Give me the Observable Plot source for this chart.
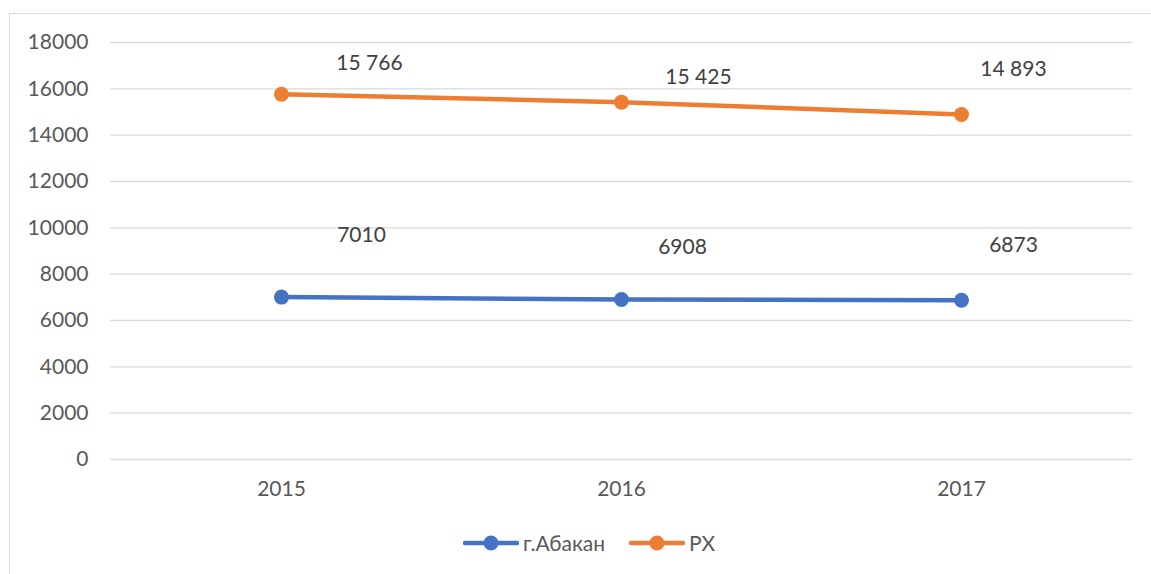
<!DOCTYPE html>
<html>
<head>
<meta charset="utf-8">
<script src="https://cdn.jsdelivr.net/npm/d3@7"></script>
<script src="https://cdn.jsdelivr.net/npm/@observablehq/plot@0.6"></script>
<style>
  html, body { margin: 0; padding: 0; background: #fff; width: 1151px; height: 574px; overflow: hidden; }
  #frame { position: absolute; left: 9px; top: 13px; width: 1200px; height: 600px; border: 1px solid #d9d9d9; box-sizing: border-box; }
  #chart { position: absolute; left: 0; top: 0; }
  #legend { position: absolute; left: 463px; top: 530px; display: flex; align-items: center; font-family: Lato, "Noto Sans", sans-serif; font-size: 21px; color: #595959; }
  .item { display: flex; align-items: center; margin-right: 24px; }
  .item svg { margin-right: 4px; }
</style>
</head>
<body>
<div id="frame"></div>
<div id="chart"></div>
<div id="legend"></div>
<script>
// ---- data ----
const years = ["2015", "2016", "2017"];
const seriesNames = ["г.Абакан", "РХ"];
const abakan = [7010, 6908, 6873];
const rx = [15766, 15425, 14893];
const abakanLabels = ["7010", "6908", "6873"];
const rxLabels = ["15 766", "15 425", "14 893"];
const yTicks = [0, 2000, 4000, 6000, 8000, 10000, 12000, 14000, 16000, 18000];

// ---- layout (label offsets in px, manually placed as in the source) ----
const colors = ["#4472C4", "#ED7D31"];
const abakanOff = [[80, -62], [61, -52], [52, -55]];
const rxOff = [[88, -31], [77, -25], [52, -45]];

const rows = years.flatMap((y, i) => [
  {year: y, series: seriesNames[0], value: abakan[i], label: abakanLabels[i], off: abakanOff[i]},
  {year: y, series: seriesNames[1], value: rx[i], label: rxLabels[i], off: rxOff[i]}
]);

const labelMarks = rows.map(r => Plot.text([r], {
  x: "year", y: "value", text: "label",
  dx: r.off[0], dy: r.off[1],
  fill: "#404040", fontSize: 21, textAnchor: "middle"
}));

const chart = Plot.plot({
  width: 1151,
  height: 509,
  marginLeft: 110,
  marginRight: 19,
  marginTop: 42,
  marginBottom: 50,
  style: { fontFamily: 'Lato, "Noto Sans", sans-serif', fontSize: "21px", color: "#595959", background: "transparent" },
  x: { type: "point", domain: years, padding: 0.5, label: null },
  y: { domain: [0, 18000], label: null },
  color: { domain: seriesNames, range: colors },
  marks: [
    Plot.gridY(yTicks, { stroke: "#d9d9d9", strokeOpacity: 1, strokeWidth: 1.3 }),
    Plot.axisY(yTicks, { tickSize: 0, tickPadding: 22, fontSize: 21, label: null, tickFormat: d => String(d) }),
    Plot.axisX({ tickSize: 0, tickPadding: 22, fontSize: 21, label: null }),
    Plot.line(rows, { x: "year", y: "value", z: "series", stroke: "series", strokeWidth: 4.5, strokeLinecap: "round" }),
    Plot.dot(rows, { x: "year", y: "value", fill: "series", r: 7.5 }),
    ...labelMarks
  ]
});
document.getElementById("chart").appendChild(chart);

// legend
const legend = document.getElementById("legend");
seriesNames.forEach((name, i) => {
  const item = document.createElement("div");
  item.className = "item";
  item.innerHTML = `<svg width="56" height="20"><line x1="2" y1="10" x2="54" y2="10" stroke="${colors[i]}" stroke-width="4.5" stroke-linecap="round"/><circle cx="28" cy="10" r="7.5" fill="${colors[i]}"/></svg><span>${name}</span>`;
  legend.appendChild(item);
});
</script>
</body>
</html>
